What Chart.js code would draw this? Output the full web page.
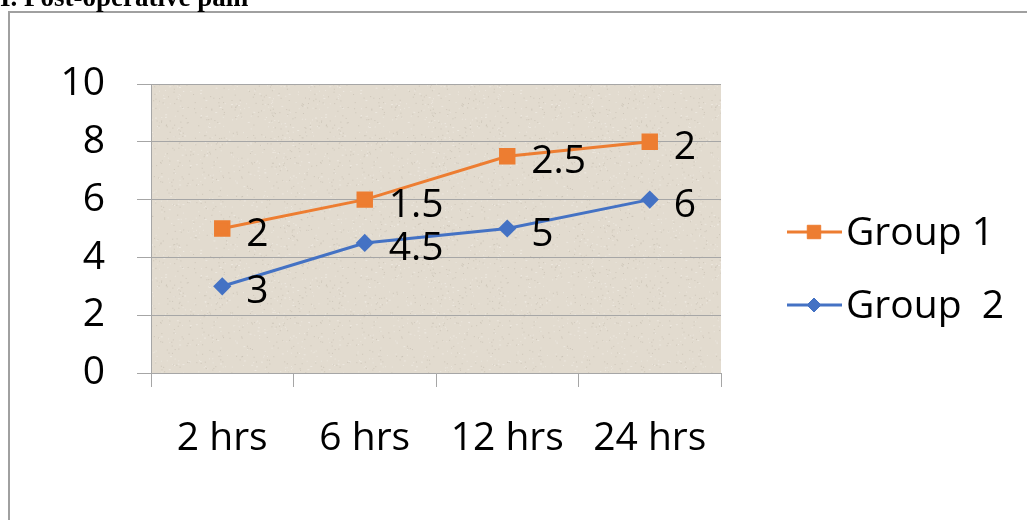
<!DOCTYPE html>
<html>
<head>
<meta charset="utf-8">
<script src="https://cdn.jsdelivr.net/npm/chart.js@4.4.1/dist/chart.umd.min.js"></script>
<style>
  html, body { margin: 0; padding: 0; background: #ffffff; overflow: hidden; }
  #wrap { position: relative; width: 1027px; height: 520px; }
</style>
</head>
<body>
<div id="wrap"><canvas id="c" width="1027" height="520"></canvas></div>
<script>
// Post-operative pain scores over time
const categories = ['2 hrs', '6 hrs', '12 hrs', '24 hrs'];
const group1Values = [5, 6, 7.5, 8];
const group1Notes = ['2', '1.5', '2.5', '2'];
const group2Values = [3, 4.5, 5, 6];
const yTicks = [0, 2, 4, 6, 8, 10];
const seriesNames = ['Group 1', 'Group  2'];
const titleText = 'I. Post-operative pain';

const FONT = '"Open Sans", Lato, sans-serif';
const FONT_SIZE = 39;
const GRID = '#a6a6a6';

// Beige speckled fill for the plotting area
function makeTexture() {
  const t = document.createElement('canvas');
  t.width = 160; t.height = 160;
  const g = t.getContext('2d');
  g.fillStyle = '#e2dbcf';
  g.fillRect(0, 0, 160, 160);
  let s = 12345;
  const next = () => { s = (s * 1103515245 + 12345) & 0x7fffffff; return s / 0x7fffffff; };
  for (let i = 0; i < 900; i++) {
    const x = next() * 160, y = next() * 160, r = next();
    g.fillStyle = r < 0.5 ? 'rgba(170,160,145,0.35)' : 'rgba(245,242,236,0.55)';
    g.fillRect(x, y, 1 + (r > 0.9 ? 1 : 0), 1);
  }
  return t;
}
const texture = makeTexture();

const framePlugin = {
  id: 'frame',
  beforeDraw(chart) {
    const { ctx, chartArea: a } = chart;
    ctx.save();
    ctx.fillStyle = ctx.createPattern(texture, 'repeat');
    ctx.fillRect(a.left, a.top, a.right - a.left, a.bottom - a.top);
    // outer frame (top and left edges)
    ctx.strokeStyle = '#a0a0a0';
    ctx.lineWidth = 2;
    ctx.beginPath();
    ctx.moveTo(9, 520);
    ctx.lineTo(9, 12);
    ctx.lineTo(1027, 12);
    ctx.stroke();
    // heading above the frame
    ctx.fillStyle = '#000';
    ctx.font = 'bold 27px "Liberation Serif", "Times New Roman", serif';
    ctx.textAlign = 'left';
    ctx.textBaseline = 'alphabetic';
    ctx.fillText(titleText, 0, 6);
    ctx.restore();
  }
};

const labelPlugin = {
  id: 'pointLabels',
  afterDatasetsDraw(chart) {
    const { ctx } = chart;
    ctx.save();
    ctx.font = FONT_SIZE + 'px ' + FONT;
    ctx.fillStyle = '#000';
    ctx.textAlign = 'left';
    ctx.textBaseline = 'middle';
    chart.data.datasets.forEach((ds, i) => {
      chart.getDatasetMeta(i).data.forEach((pt, j) => {
        ctx.fillText(ds.pointNotes[j], pt.x + 24, pt.y + 6);
      });
    });
    ctx.restore();
  }
};

const legendPlugin = {
  id: 'sideLegend',
  afterDraw(chart) {
    const { ctx } = chart;
    const rows = [232, 305];
    ctx.save();
    chart.data.datasets.forEach((ds, i) => {
      const y = rows[i];
      ctx.strokeStyle = ds.borderColor;
      ctx.lineWidth = 3;
      ctx.beginPath();
      ctx.moveTo(787, y);
      ctx.lineTo(842, y);
      ctx.stroke();
      ctx.fillStyle = ds.pointBackgroundColor;
      ctx.strokeStyle = ds.pointBackgroundColor;
      ctx.lineWidth = 1;
      Chart.helpers.drawPoint(ctx, { pointStyle: ds.pointStyle, radius: ds.pointRadius, rotation: 0, borderWidth: 1 }, 814, y);
      ctx.fillStyle = '#000';
      ctx.font = FONT_SIZE + 'px ' + FONT;
      ctx.textAlign = 'left';
      ctx.textBaseline = 'middle';
      ctx.fillText(ds.label, 846, y + 2);
    });
    ctx.restore();
  }
};

new Chart(document.getElementById('c'), {
  type: 'line',
  data: {
    labels: categories,
    datasets: [
      {
        label: seriesNames[0],
        data: group1Values,
        pointNotes: group1Notes,
        borderColor: '#ed7d31',
        backgroundColor: '#ed7d31',
        pointBackgroundColor: '#ed7d31',
        pointBorderColor: '#ed7d31',
        borderWidth: 3,
        pointStyle: 'rect',
        pointRadius: 9.5,
        tension: 0
      },
      {
        label: seriesNames[1],
        data: group2Values,
        pointNotes: group2Values.map(v => String(v)),
        borderColor: '#4472c4',
        backgroundColor: '#4472c4',
        pointBackgroundColor: '#4472c4',
        pointBorderColor: '#4472c4',
        borderWidth: 3,
        pointStyle: 'rectRot',
        pointRadius: 7,
        tension: 0
      }
    ]
  },
  options: {
    responsive: false,
    animation: false,
    devicePixelRatio: 1,
    layout: { padding: { top: 84, right: 306, bottom: 0, left: 0 } },
    plugins: { legend: { display: false }, tooltip: { enabled: false } },
    scales: {
      x: {
        offset: true,
        grid: { offset: true, drawOnChartArea: false, drawTicks: true, tickLength: 14, color: GRID },
        border: { display: true, color: GRID },
        ticks: { color: '#000', font: { family: FONT, size: FONT_SIZE }, padding: 28, maxRotation: 0, autoSkip: false },
        afterFit(scale) { scale.height = 147; }
      },
      y: {
        min: 0,
        max: 10,
        afterBuildTicks(scale) { scale.ticks = yTicks.map(v => ({ value: v })); },
        grid: { color: GRID, tickLength: 14, drawTicks: true },
        border: { display: true, color: GRID },
        ticks: { color: '#000', font: { family: FONT, size: FONT_SIZE }, padding: 32 },
        afterFit(scale) { scale.width = 151; }
      }
    }
  },
  plugins: [framePlugin, labelPlugin, legendPlugin]
});
</script>
</body>
</html>
